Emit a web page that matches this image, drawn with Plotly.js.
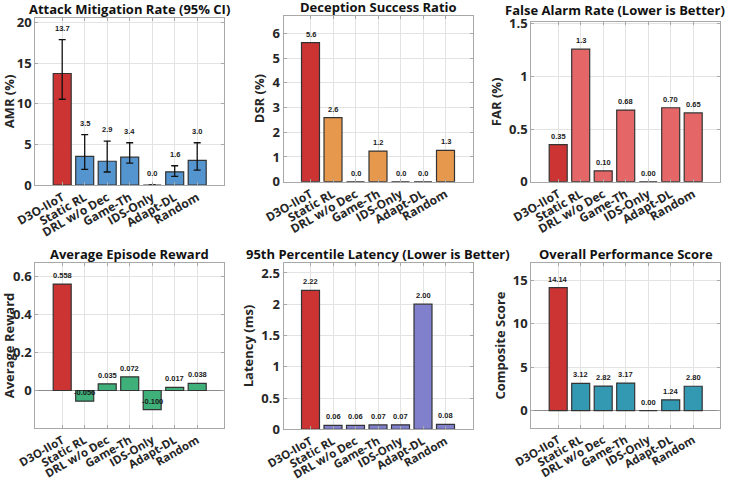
<!DOCTYPE html>
<html><head><meta charset="utf-8">
<script src="https://cdn.plot.ly/plotly-3.0.1.min.js"></script>
<style>html,body{margin:0;padding:0;background:#fff}#chart{width:729px;height:480px}</style>
</head><body><div id="chart"></div>
<script>
const categories = ['D3O-IIoT','Static RL','DRL w/o Dec','Game-Th','IDS-Only','Adapt-DL','Random'];
const amr      = [13.72, 3.52, 2.92, 3.42, 0.0, 1.62, 3.04];
const amrLow   = [10.55, 1.93, 1.60, 2.70, 0.0, 1.05, 1.84];
const amrHigh  = [17.90, 6.20, 5.40, 5.20, 0.0, 2.37, 5.20];
const dsr      = [5.62, 2.59, 0.0, 1.24, 0.0, 0.0, 1.27];
const far      = [0.353, 1.26, 0.103, 0.681, 0.0, 0.703, 0.654];
const reward   = [0.558, -0.056, 0.035, 0.072, -0.100, 0.017, 0.038];
const latency  = [2.22, 0.062, 0.063, 0.07, 0.072, 2.00, 0.08];
const score    = [14.14, 3.12, 2.82, 3.17, 0.00, 1.24, 2.80];

const titles = ['Attack Mitigation Rate (95% CI)','Deception Success Ratio','False Alarm Rate (Lower is Better)',
                'Average Episode Reward','95th Percentile Latency (Lower is Better)','Overall Performance Score'];
const yTitles = ['AMR (%)','DSR (%)','FAR (%)','Average Reward','Latency (ms)','Composite Score'];

const W = 729, H = 480;
const FONT = 'Open Sans, DejaVu Sans, sans-serif';
const TXT = '#262626';
const RED = 'rgb(204,51,51)';

const panels = [
  {vals: amr, color: 'rgb(84,148,207)', range: [0, 20.55], ticks: [0,5,10,15,20], fmt: v => v.toFixed(1),
   box: [35.2, 224.2, 18, 185], err: true, shift: 5, xfs: 12},
  {vals: dsr, color: 'rgb(230,153,77)', range: [0, 6.72], ticks: [0,1,2,3,4,5,6], fmt: v => v.toFixed(1),
   box: [283.5, 472.5, 15.5, 181.7], shift: 2, xfs: 12},
  {vals: far, color: 'rgb(229,102,102)', range: [0, 1.518], ticks: [0,0.5,1,1.5], fmt: v => v >= 1 ? v.toFixed(1) : v.toFixed(2),
   box: [531.2, 720.2, 22, 181.7], shift: 2, titleRight: 727, titleUp: 3, xfs: 12},
  {vals: reward, color: 'rgb(64,176,122)', range: [-0.198, 0.67], ticks: [0,0.2,0.4,0.6], fmt: v => v.toFixed(3),
   box: [35.2, 224.2, 262.7, 428.3], zero: true, shift: 2, xfs: 11.5},
  {vals: latency, color: 'rgb(128,128,204)', range: [0, 2.664], ticks: [0,0.5,1,1.5,2,2.5], fmt: v => v.toFixed(2),
   box: [283.5, 472.5, 262.7, 429.3], shift: 2, xfs: 11.5},
  {vals: score, color: 'rgb(51,153,179)', range: [-2, 16.97], ticks: [0,5,10,15], fmt: v => v.toFixed(2),
   box: [531.2, 720.2, 263, 428], zero: true, shift: 2, xfs: 11.5},
];

const data = [];
const layout = {
  width: W, height: H, margin: {l:0, r:0, t:0, b:0},
  paper_bgcolor: '#fff', plot_bgcolor: '#fff', showlegend: false,
  font: {family: FONT, color: TXT}, bargap: 0.2, annotations: []
};

panels.forEach((p, k) => {
  const n = k + 1;
  const xa = 'x' + (n === 1 ? '' : n), ya = 'y' + (n === 1 ? '' : n);
  const xkey = 'xaxis' + (n === 1 ? '' : n), ykey = 'yaxis' + (n === 1 ? '' : n);
  const colors = p.vals.map((v, i) => i === 0 ? RED : p.color);
  const tr = {
    type: 'bar', x: categories.map((c, i) => i), y: p.vals, xaxis: xa, yaxis: ya,
    width: 0.8,
    marker: {color: colors, line: {color: '#333', width: 1.2}},
    hoverinfo: 'skip'
  };
  if (p.err) {
    tr.error_y = {type: 'data', symmetric: false,
      array: amrHigh.map((h, i) => h - amr[i]), arrayminus: amrLow.map((l, i) => amr[i] - l),
      color: '#111', thickness: 1.3, width: 3.5};
  }
  data.push(tr);
  const [x0, x1, y0, y1] = p.box;
  layout[xkey] = {
    domain: [x0 / W, x1 / W], anchor: ya, range: [-1.2, 7.2],
    tickvals: categories.map((c, i) => i), ticktext: categories, tickangle: -30,
    tickfont: {family: FONT, size: p.xfs, color: TXT, weight: 'bold'},
    showgrid: true, gridcolor: '#e3e3e3', gridwidth: 1,
    showline: true, linecolor: '#a8a8a8', linewidth: 1, mirror: 'ticks',
    ticks: 'inside', ticklen: 3, tickcolor: '#a8a8a8', zeroline: false, fixedrange: true
  };
  layout[ykey] = {
    domain: [1 - y1 / H, 1 - y0 / H], anchor: xa, range: p.range,
    tickvals: p.ticks, ticktext: p.ticks.map(String),
    tickfont: {family: FONT, size: 13, color: TXT, weight: 'bold'},
    showgrid: true, gridcolor: '#e3e3e3', gridwidth: 1,
    showline: true, linecolor: '#a8a8a8', linewidth: 1, mirror: 'ticks',
    ticks: 'inside', ticklen: 3, tickcolor: '#a8a8a8',
    zeroline: !!p.zero, zerolinecolor: '#8c8c8c', zerolinewidth: 1,
    title: {text: yTitles[k], font: {family: FONT, size: 13, color: TXT, weight: 'bold'}, standoff: 4},
    fixedrange: true
  };
  layout.annotations.push({
    xref: 'paper', yref: 'paper',
    x: p.titleRight ? p.titleRight / W : (x0 + x1) / 2 / W, y: 1 - (y0 - 9 - (p.titleUp || 0)) / H,
    xanchor: p.titleRight ? 'right' : 'center', yanchor: 'middle', showarrow: false,
    text: titles[k], font: {family: FONT, size: 13, color: '#111', weight: 'bold'}
  });
  p.vals.forEach((v, i) => {
    const top = p.err ? Math.max(amrHigh[i], v) : v;
    layout.annotations.push({
      xref: xa, yref: ya, x: i, y: top, xanchor: 'center', yanchor: 'bottom', yshift: p.shift,
      showarrow: false, text: p.fmt(v),
      font: {family: 'Liberation Sans, Arial, sans-serif', size: 7.5, color: '#1a1a1a', weight: 'bold'}
    });
  });
});

Plotly.newPlot('chart', data, layout, {displayModeBar: false, staticPlot: true});
</script></body></html>
